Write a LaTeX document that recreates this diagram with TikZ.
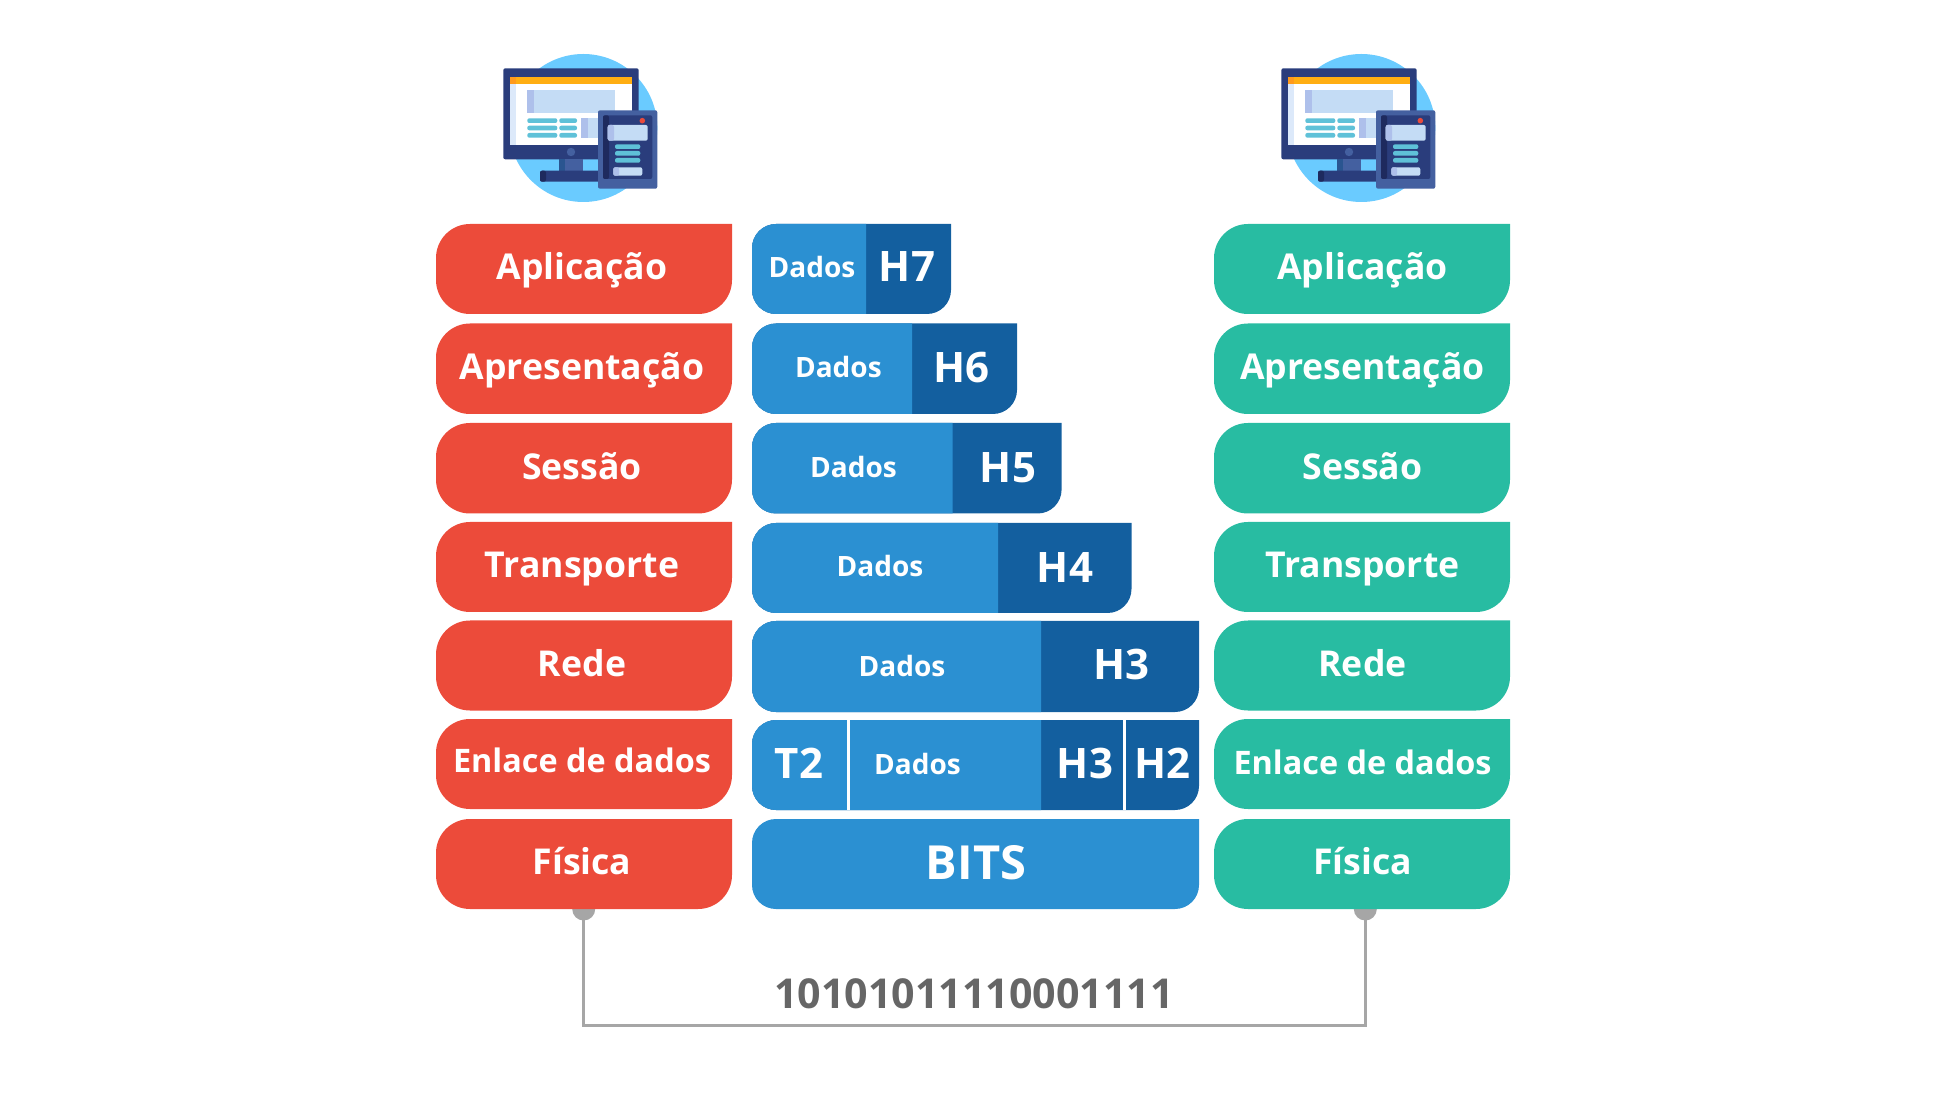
\documentclass[tikz,border=0pt]{standalone}
\usepackage{fontspec}
\setmainfont{Open Sans}
\definecolor{layerred}{HTML}{EC4B3A}
\definecolor{layergreen}{HTML}{28BCA2}
\definecolor{datablue}{HTML}{2B90D2}
\definecolor{headblue}{HTML}{135F9F}
\definecolor{wiregray}{HTML}{A6A6A6}
\definecolor{bitgray}{HTML}{666666}
\definecolor{iconsky}{HTML}{6ACBFF}
\definecolor{iconnavy}{HTML}{2A3D7C}
\definecolor{icondark}{HTML}{1E2A5E}
\definecolor{iconsteel}{HTML}{4460A0}
\definecolor{iconstem}{HTML}{2A5590}
\definecolor{iconorange}{HTML}{FFAE12}
\definecolor{iconamber}{HTML}{FF9A1C}
\definecolor{iconpale}{HTML}{C4DCF5}
\definecolor{iconlav}{HTML}{AEC0EB}
\definecolor{iconteal}{HTML}{5FC1D8}
\definecolor{iconstrip}{HTML}{DCE9FA}
\definecolor{iconred}{HTML}{E94B3C}
\tikzset{
	layertext/.style={anchor=base, text=white, font=\fontsize{17.8}{22}\selectfont\bfseries},
	linktext/.style={anchor=base, text=white, font=\fontsize{16.2}{20}\selectfont\bfseries},
	datatext/.style={anchor=base, text=white, font=\fontsize{14}{17}\selectfont\bfseries},
	headtext/.style={anchor=base, text=white, font=\fontsize{21}{25}\selectfont\bfseries},
	bitstext/.style={anchor=base, text=white, font=\fontsize{23.5}{28}\selectfont\bfseries},
	streamtext/.style={anchor=base, text=bitgray, font=\fontsize{20.6}{25}\selectfont\bfseries},
	pin/.style={circle, fill=wiregray, inner sep=0pt, minimum size=11.5pt},
	wire/.style={draw=wiregray, line width=1.5pt},
	bar/.style={rounded corners=1pt}
}
% box with a square top right corner: colour, x1, y1, x2, y2, radius
\newcommand{\layerbox}[6]{
	\fill[#1] (#4,#3) [rounded corners=#6] -- (#2,#3) -- (#2,#5) -- (#4,#5) [sharp corners] -- cycle;
}
% left part of a packet, square on its right side: colour, x1, y1, x2, y2, radius
\newcommand{\leftbox}[6]{
	\fill[#1] (#4,#3) [rounded corners=#6] -- (#2,#3) -- (#2,#5) [sharp corners] -- (#4,#5) -- cycle;
}
% monitor and tablet, shifted by #1
\newcommand{\hosticon}[1]{
	\begin{scope}[shift={(#1,0)}]
		\fill[iconsky] (583.3,128) circle[radius=37pt];
		% monitor
		\fill[iconnavy, bar] (503.3,68.3) rectangle (638.7,159.3);
		\fill[white] (510,76.7) rectangle (632,144.7);
		\fill[iconstrip] (510,84) rectangle (516,144.7);
		\fill[iconorange] (510,76.7) rectangle (632,84);
		\fill[iconamber] (510,76.7) rectangle (516,84);
		\fill[iconpale] (527.3,90) rectangle (614.7,113);
		\fill[iconlav] (527.3,90) rectangle (534,113);
		\fill[iconteal, bar] (527.3,118.3) rectangle (557.3,123);
		\fill[iconteal, bar] (559.3,118.3) rectangle (577,123);
		\fill[iconteal, bar] (527.3,125.7) rectangle (557.3,130.3);
		\fill[iconteal, bar] (559.3,125.7) rectangle (577,130.3);
		\fill[iconteal, bar] (527.3,133) rectangle (557.3,137.7);
		\fill[iconteal, bar] (559.3,133) rectangle (577,137.7);
		\fill[iconpale] (581.3,118) rectangle (600,138);
		\fill[iconlav] (581.3,118) rectangle (588,138);
		\fill[iconsteel] (571,152) circle[radius=2.1pt];
		% stand
		\fill[iconsteel] (559,159.3) rectangle (583,170.7);
		\fill[iconstem] (559,159.3) rectangle (565,170.7);
		\fill[iconnavy, bar] (540,170.7) rectangle (600,181.7);
		\fill[icondark, bar] (540,170.7) rectangle (546,181.7);
		% tablet
		\fill[iconsteel, bar] (598,110.3) rectangle (657.3,188.7);
		\fill[iconnavy, bar] (603,115.3) rectangle (652.3,179);
		\fill[icondark, bar] (603,115.3) rectangle (609,179);
		\fill[iconred] (642.3,120.7) circle[radius=1.4pt];
		\fill[iconpale, bar] (607.7,125) rectangle (647.7,140.7);
		\fill[iconlav, bar] (607.7,125) rectangle (614,140.7);
		\fill[iconteal, bar] (615,144.3) rectangle (640.3,149);
		\fill[iconteal, bar] (615,151) rectangle (640.3,155.7);
		\fill[iconteal, bar] (615,158) rectangle (640.3,162.7);
		\fill[iconpale, bar] (613.3,167.3) rectangle (642.3,175.7);
		\fill[iconlav, bar] (613.3,167.3) rectangle (619,175.7);
	\end{scope}
}
\begin{document}
\begin{tikzpicture}[x=0.5pt, y=-0.5pt]
	\useasboundingbox (0,0) rectangle (1947,1095);
	
	% Hosts
	\hosticon{0}
	\hosticon{778}
	
	% Wire between the two physical layers
	\node[pin] (pinL) at (583.7,909) {};
	\node[pin] (pinR) at (1365.3,909) {};
	\coordinate (busL) at (583.7,1025.7);
	\coordinate (busR) at (1365.3,1025.7);
	\draw[wire] (pinL.center) -- (busL) -- (busR) -- (pinR.center);
	\node[streamtext] (stream) at (974,1008) {10101011110001111};
	
	% Left stack
	\layerbox{layerred}{436}{224}{732}{314}{17pt}
	\layerbox{layerred}{436}{323.5}{732}{414}{17pt}
	\layerbox{layerred}{436}{423}{732}{513.5}{17pt}
	\layerbox{layerred}{436}{522}{732}{612}{17pt}
	\layerbox{layerred}{436}{620.5}{732}{710.5}{17pt}
	\layerbox{layerred}{436}{719}{732}{809}{17pt}
	\layerbox{layerred}{436}{819}{732}{909}{17pt}
	\node[layertext] (appL) at (582,280) {Aplicação};
	\node[layertext] (preL) at (582,379.5) {Apresentação};
	\node[layertext] (sesL) at (582,479.5) {Sessão};
	\node[layertext] (traL) at (582,578) {Transporte};
	\node[layertext] (redL) at (582,676) {Rede};
	\node[linktext] (enlL) at (582,772) {Enlace de dados};
	\node[layertext] (fisL) at (582,874) {Física};
	
	% Right stack
	\layerbox{layergreen}{1214}{224}{1510}{314}{17pt}
	\layerbox{layergreen}{1214}{323.5}{1510}{414}{17pt}
	\layerbox{layergreen}{1214}{423}{1510}{513.5}{17pt}
	\layerbox{layergreen}{1214}{522}{1510}{612}{17pt}
	\layerbox{layergreen}{1214}{620.5}{1510}{710.5}{17pt}
	\layerbox{layergreen}{1214}{719}{1510}{809}{17pt}
	\layerbox{layergreen}{1214}{819}{1510}{909}{17pt}
	\node[layertext] (appR) at (1362.5,280) {Aplicação};
	\node[layertext] (preR) at (1362.5,379.5) {Apresentação};
	\node[layertext] (sesR) at (1362.5,479.5) {Sessão};
	\node[layertext] (traR) at (1362.5,578) {Transporte};
	\node[layertext] (redR) at (1362.5,676) {Rede};
	\node[linktext] (enlR) at (1362.5,774) {Enlace de dados};
	\node[layertext] (fisR) at (1362.5,874) {Física};
	
	% Packets in the middle
	\layerbox{headblue}{752}{224}{951}{314}{12pt}
	\leftbox{datablue}{752}{224}{866}{314}{12pt}
	\node[datatext] (dataA) at (812,278) {Dados};
	\node[headtext] (headA) at (907,282) {H7};
	
	\layerbox{headblue}{752}{323.5}{1017}{414}{12pt}
	\leftbox{datablue}{752}{323.5}{912}{414}{12pt}
	\node[datatext] (dataB) at (838.4,378) {Dados};
	\node[headtext] (headB) at (961.7,383) {H6};
	
	\layerbox{headblue}{752}{423}{1061.6}{513.5}{12pt}
	\leftbox{datablue}{752}{423}{952.5}{513.5}{12pt}
	\node[datatext] (dataC) at (853.5,477.5) {Dados};
	\node[headtext] (headC) at (1008,482.5) {H5};
	
	\layerbox{headblue}{752}{523}{1131.5}{613}{12pt}
	\leftbox{datablue}{752}{523}{998}{613}{12pt}
	\node[datatext] (dataD) at (880,577) {Dados};
	\node[headtext] (headD) at (1065,582) {H4};
	
	\layerbox{headblue}{752}{621}{1199}{712}{12pt}
	\leftbox{datablue}{752}{621}{1041}{712}{12pt}
	\node[datatext] (dataE) at (902,676) {Dados};
	\node[headtext] (headE) at (1121.5,679) {H3};
	
	% Frame with its trailer
	\layerbox{headblue}{752}{720}{1199}{810}{12pt}
	\leftbox{datablue}{752}{720}{1041}{810}{12pt}
	\fill[white] (846.7,720) rectangle (850,810);
	\fill[white] (1123,720) rectangle (1126,810);
	\node[headtext] (trail) at (799,778.5) {T2};
	\node[datatext] (dataF) at (917.5,774) {Dados};
	\node[headtext] (headF) at (1085,778) {H3};
	\node[headtext] (headG) at (1162.7,778) {H2};
	
	\layerbox{datablue}{752}{819}{1199}{909}{12pt}
	\node[bitstext] (bits) at (976,879) {BITS};
\end{tikzpicture}
\end{document}
